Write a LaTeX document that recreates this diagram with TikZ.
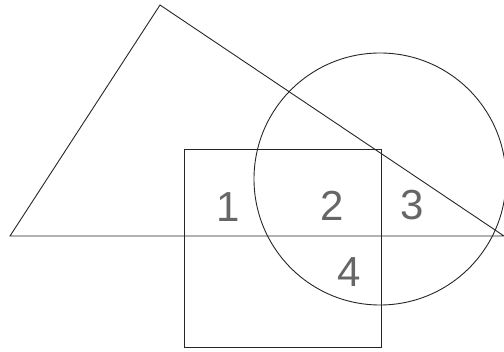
\documentclass[tikz,border=0pt]{standalone}
\usepackage{fontspec}
\setmainfont{Liberation Sans}
\begin{document}
\begin{tikzpicture}[x=1pt,y=-1pt,
  ln/.style={draw=black!85,line width=0.9pt},
  lbl/.style={font=\fontsize{42}{42}\selectfont,text=black!60,inner sep=0pt}]
\useasboundingbox (0,0) rectangle (504,352);
\coordinate (A) at (10,236);
\coordinate (B) at (160,5);
\coordinate (C) at (504,236);
\draw[ln] (A) -- (B) -- (C) -- cycle;
\coordinate (O) at (380,179);
\draw[ln] (O) circle [radius=126];
\draw[ln] (184,149) rectangle (381,347);
\node[lbl] (n1) at (228,207) {1};
\node[lbl] (n2) at (332,206) {2};
\node[lbl] (n3) at (412,205) {3};
\node[lbl] (n4) at (349,272) {4};
\end{tikzpicture}
\end{document}
